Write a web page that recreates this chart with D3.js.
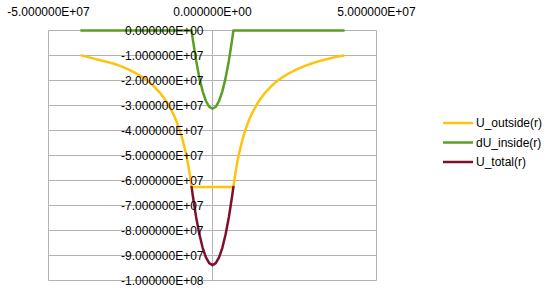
<!DOCTYPE html>
<html>
<head>
<meta charset="utf-8">
<script src="https://cdn.jsdelivr.net/npm/d3@7"></script>
<style>
  html, body { margin: 0; padding: 0; background: #fff; }
  svg { display: block; font-family: "Liberation Sans", Arial, sans-serif; }
</style>
</head>
<body>
<div id="chart"></div>
<script>
// r positions shared by U_outside and dU_inside
const rValues = [-4e7, -3e7, -2.8e7, -2.6e7, -2.4e7, -2.2e7, -2e7, -1.8e7, -1.6e7, -1.4e7,
  -1.2e7, -1.1e7, -1e7, -9e6, -8e6, -7.5e6, -7e6, -6.371e6,
  -6e6, -5e6, -4e6, -3e6, -2e6, -1e6, 0, 1e6, 2e6, 3e6, 4e6, 5e6, 6e6,
  6.371e6, 7e6, 7.5e6, 8e6, 9e6, 1e7, 1.1e7, 1.2e7, 1.4e7, 1.6e7, 1.8e7,
  2e7, 2.2e7, 2.4e7, 2.6e7, 2.8e7, 3e7, 3.25e7, 3.5e7, 3.75e7, 4e7];

const uOutside = [-9.965e6, -1.3287e7, -1.4236e7, -1.5331e7, -1.6608e7, -1.8118e7, -1.993e7,
  -2.2144e7, -2.4913e7, -2.8471e7, -3.3217e7, -3.6236e7, -3.986e7, -4.4289e7, -4.9825e7,
  -5.3147e7, -5.6943e7, -6.2565e7,
  -6.2565e7, -6.2565e7, -6.2565e7, -6.2565e7, -6.2565e7, -6.2565e7, -6.2565e7,
  -6.2565e7, -6.2565e7, -6.2565e7, -6.2565e7, -6.2565e7, -6.2565e7,
  -6.2565e7, -5.6943e7, -5.3147e7, -4.9825e7, -4.4289e7, -3.986e7, -3.6236e7, -3.3217e7,
  -2.8471e7, -2.4913e7, -2.2144e7, -1.993e7, -1.8118e7, -1.6608e7, -1.5331e7, -1.4236e7,
  -1.3287e7, -1.2265e7, -1.1389e7, -1.0629e7, -9.965e6];

const dUInside = [0, 0, 0, 0, 0, 0, 0, 0, 0, 0, 0, 0, 0, 0, 0, 0, 0, 0,
  -3.5375e6, -1.2015e7, -1.8952e7, -2.4346e7, -2.82e7, -3.0512e7, -3.1283e7,
  -3.0512e7, -2.82e7, -2.4346e7, -1.8952e7, -1.2015e7, -3.5375e6,
  0, 0, 0, 0, 0, 0, 0, 0, 0, 0, 0, 0, 0, 0, 0, 0, 0, 0, 0, 0, 0];

// U_total is only plotted inside the sphere
const rInside = [-6.371e6, -6e6, -5e6, -4e6, -3e6, -2e6, -1e6, 0, 1e6, 2e6, 3e6, 4e6, 5e6, 6e6, 6.371e6];
const uTotal = [-6.2565e7, -6.6102e7, -7.458e7, -8.1516e7, -8.6911e7, -9.0765e7, -9.3077e7, -9.3848e7,
  -9.3077e7, -9.0765e7, -8.6911e7, -8.1516e7, -7.458e7, -6.6102e7, -6.2565e7];

const xTicks = [-5e7, 0, 5e7];
const yTicks = [0, -1e7, -2e7, -3e7, -4e7, -5e7, -6e7, -7e7, -8e7, -9e7, -1e8];

const seriesNames = ['U_outside(r)', 'dU_inside(r)', 'U_total(r)'];
const seriesColors = ['#FFC20E', '#5B9E23', '#800F2C'];

const width = 547, height = 293;
const gridColor = '#b3b3b3';

// Excel style scientific labels: 1.000000E+07
function sci(v) {
  const s = v.toExponential(6).toUpperCase();
  return s.replace(/E([+-])(\d)$/, 'E$10$2');
}

const svg = d3.select('#chart').append('svg')
  .attr('width', width)
  .attr('height', height);

svg.append('rect').attr('width', width).attr('height', height).attr('fill', '#fff');

const x = d3.scaleLinear().domain([-5e7, 5e7]).range([48.5, 376.5]);
const y = d3.scaleLinear().domain([-1e8, 0]).range([280.5, 30.5]);

// Gridlines
svg.append('g').selectAll('line.h')
  .data(yTicks)
  .join('line')
  .attr('x1', x(-5e7)).attr('x2', x(5e7))
  .attr('y1', d => y(d)).attr('y2', d => y(d))
  .attr('stroke', gridColor).attr('stroke-width', 1);

svg.append('g').selectAll('line.v')
  .data(xTicks)
  .join('line')
  .attr('x1', d => x(d)).attr('x2', d => x(d))
  .attr('y1', y(0)).attr('y2', y(-1e8))
  .attr('stroke', gridColor).attr('stroke-width', 1);

// Series
const line = d3.line().x(d => x(d[0])).y(d => y(d[1]));

const seriesData = [
  d3.zip(rValues, uOutside),
  d3.zip(rValues, dUInside),
  d3.zip(rInside, uTotal)
];

svg.append('g').selectAll('path')
  .data(seriesData)
  .join('path')
  .attr('d', line)
  .attr('fill', 'none')
  .attr('stroke', (d, i) => seriesColors[i])
  .attr('stroke-width', 2.5)
  .attr('stroke-linejoin', 'round')
  .attr('stroke-linecap', 'round');

// Y tick labels sit next to the vertical axis at x = 0
svg.append('g').selectAll('text')
  .data(yTicks)
  .join('text')
  .attr('x', x(0) - 9)
  .attr('y', d => y(d))
  .attr('dy', '0.35em')
  .attr('text-anchor', 'end')
  .style('font-size', '12px')
  .attr('fill', '#000')
  .text(sci);

// X tick labels above the top axis
svg.append('g').selectAll('text')
  .data(xTicks)
  .join('text')
  .attr('x', d => x(d))
  .attr('y', 16)
  .attr('text-anchor', 'middle')
  .style('font-size', '12px')
  .attr('fill', '#000')
  .text(sci);

// Legend
const legend = svg.append('g').attr('transform', 'translate(443,123)');
const item = legend.selectAll('g')
  .data(seriesNames)
  .join('g')
  .attr('transform', (d, i) => `translate(0,${i * 19.5})`);

item.append('line')
  .attr('x1', 0).attr('x2', 30)
  .attr('stroke', (d, i) => seriesColors[i])
  .attr('stroke-width', 2.5);

item.append('text')
  .attr('x', 33)
  .attr('dy', '0.35em')
  .style('font-size', '12px')
  .attr('fill', '#000')
  .text(d => d);
</script>
</body>
</html>
